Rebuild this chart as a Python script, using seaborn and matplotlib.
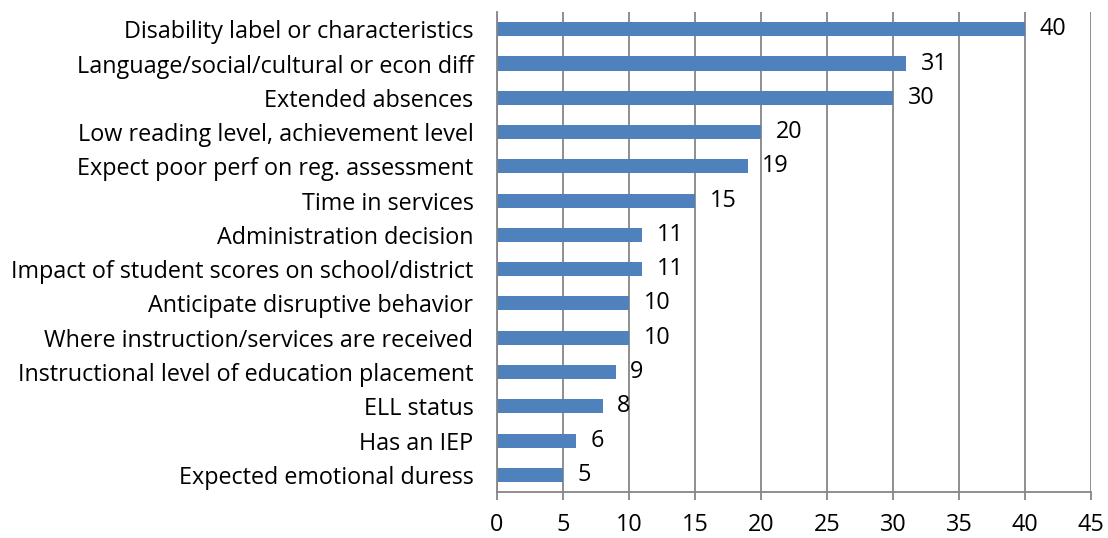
import pandas as pd
import matplotlib.pyplot as plt
import seaborn as sns

# Reasons listed, top to bottom
reasons = [
    'Disability label or characteristics',
    'Language/social/cultural or econ diff',
    'Extended absences',
    'Low reading level, achievement level',
    'Expect poor perf on reg. assessment',
    'Time in services',
    'Administration decision',
    'Impact of student scores on school/district',
    'Anticipate disruptive behavior',
    'Where instruction/services are received',
    'Instructional level of education placement',
    'ELL status',
    'Has an IEP',
    'Expected emotional duress',
]
counts = [40, 31, 30, 20, 19, 15, 11, 11, 10, 10, 9, 8, 6, 5]
x_ticks = [0, 5, 10, 15, 20, 25, 30, 35, 40, 45]

df = pd.DataFrame({'reason': reasons, 'count': counts})

sns.set_style('white')
plt.rcParams['font.family'] = ['Open Sans', 'DejaVu Sans']
plt.rcParams['text.color'] = 'black'
plt.rcParams['xtick.labelcolor'] = 'black'
plt.rcParams['ytick.labelcolor'] = 'black'

fs = 16.8
fig = plt.figure(figsize=(11.08, 5.38), dpi=100)
ax = fig.add_axes([0.4486, 0.0855, 0.5361, 0.892])

sns.barplot(data=df, x='count', y='reason', orient='h', color='#4F81BD',
            width=0.41, saturation=1, linewidth=0, ax=ax)

grid_col = '#868686'
ax.set_xlim(0, 45)
ax.set_xticks(x_ticks)
ax.xaxis.grid(True, color=grid_col, linewidth=1.3)
ax.set_axisbelow(True)
for s in ['top', 'right']:
    ax.spines[s].set_visible(False)
for s in ['left', 'bottom']:
    ax.spines[s].set_color(grid_col)
    ax.spines[s].set_linewidth(1.3)

# y ticks sit between categories
n = len(reasons)
ax.set_yticks(range(n))
ax.set_yticklabels(reasons, fontsize=fs)
ax.set_yticks([i - 0.5 for i in range(n + 1)], minor=True)
ax.tick_params(axis='y', which='major', length=0, pad=17)
ax.tick_params(axis='y', which='minor', length=6, color=grid_col, width=1.3, direction='out')
ax.tick_params(axis='x', length=6, color=grid_col, width=1.3, pad=9, labelsize=fs, bottom=True)
ax.set_ylim(n - 0.5, -0.5)
ax.set_xlabel('')
ax.set_ylabel('')

for i, v in enumerate(counts):
    ax.text(v + 1.1, i, str(v), va='center', ha='left', fontsize=fs, color='black')

fig.savefig('out.png', dpi=100)
